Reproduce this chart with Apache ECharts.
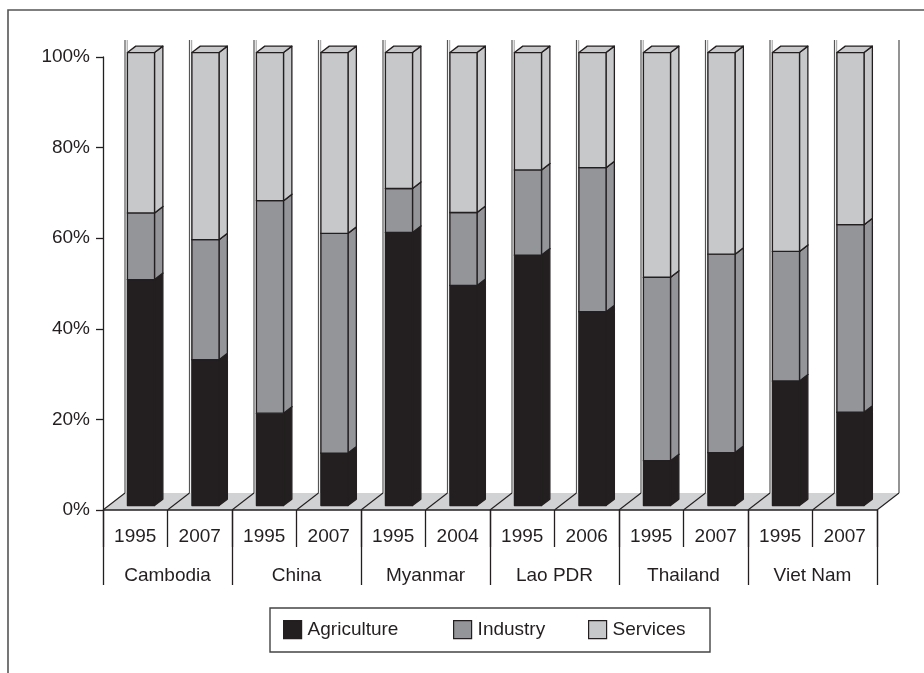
<!DOCTYPE html>
<html>
<head>
<meta charset="utf-8">
<script src="https://cdn.jsdelivr.net/npm/echarts@6/dist/echarts.min.js"></script>
<style>
  html, body { margin: 0; padding: 0; background: #fff; }
  #chart { width: 924px; height: 673px; }
</style>
</head>
<body>
<div id="chart"></div>
<script>
// Sector shares of GDP (%), by country and year
const countries = ['Cambodia', 'China', 'Myanmar', 'Lao PDR', 'Thailand', 'Viet Nam'];
const years = ['1995', '2007', '1995', '2007', '1995', '2004', '1995', '2006', '1995', '2007', '1995', '2007'];
const agriculture = [49.9, 32.2, 20.4, 11.6, 60.3, 48.6, 55.3, 42.8, 9.9, 11.7, 27.5, 20.6];
const industry    = [14.7, 26.5, 46.9, 48.5, 9.7, 16.1, 18.8, 31.8, 40.5, 43.8, 28.6, 41.4];
const services    = [35.4, 41.3, 32.7, 39.9, 30.0, 35.3, 25.9, 25.4, 49.6, 44.5, 43.9, 38.0];
const sectorNames = ['Agriculture', 'Industry', 'Services'];

const INK = '#231f20';
const COLORS = { Agriculture: '#231f20', Industry: '#939598', Services: '#c7c8ca' };
const FLOOR = '#d1d2d3';
const FONT = "'Liberation Sans', Arial, Helvetica, sans-serif";

// perspective: the floor recedes up and to the right
const DEPTH = [22, -17];
const BAR_FRONT = 0.26;   // bar front plane, as a fraction of floor depth
const BAR_BACK = 0.64;    // bar back plane
const BAR_WIDTH = 0.42;   // front face width, as a fraction of the category band

// draw one stacked block (front, side, top faces) between two values
function renderBlock(color) {
  return function (params, api) {
    const idx = api.value(0);
    const lo = api.value(1), hi = api.value(2);
    const band = api.size([1, 0])[0];
    const pLo = api.coord([idx, lo]);
    const pHi = api.coord([idx, hi]);
    const fx = DEPTH[0] * BAR_FRONT, fy = DEPTH[1] * BAR_FRONT;
    const dx = DEPTH[0] * (BAR_BACK - BAR_FRONT), dy = DEPTH[1] * (BAR_BACK - BAR_FRONT);
    const w = band * BAR_WIDTH;
    const x0 = pLo[0] - w / 2 + fx, x1 = x0 + w;
    const yb = pLo[1] + fy, yt = pHi[1] + fy;
    const style = { fill: color, stroke: INK, lineWidth: 1.3, lineJoin: 'round' };
    return {
      type: 'group',
      children: [
        { type: 'polygon', shape: { points: [[x1, yb], [x1 + dx, yb + dy], [x1 + dx, yt + dy], [x1, yt]] }, style: style },
        { type: 'polygon', shape: { points: [[x0, yt], [x1, yt], [x1 + dx, yt + dy], [x0 + dx, yt + dy]] }, style: style },
        { type: 'rect', shape: { x: x0, y: yt, width: w, height: yb - yt }, style: style }
      ]
    };
  };
}

// floor strip and back-wall divider for each category band
function renderFloor(params, api) {
  const idx = api.value(0);
  const band = api.size([1, 0])[0];
  const base = api.coord([idx, 0]);
  const top = api.coord([idx, 100]);
  const xl = base[0] - band / 2, xr = base[0] + band / 2, y = base[1];
  const yTop = top[1] + DEPTH[1];
  const children = [
    { type: 'polygon', shape: { points: [[xl, y], [xr, y], [xr + DEPTH[0], y + DEPTH[1]], [xl + DEPTH[0], y + DEPTH[1]]] },
      style: { fill: FLOOR, stroke: null } },
    { type: 'line', shape: { x1: xl, y1: y, x2: xr, y2: y }, style: { stroke: INK, lineWidth: 1.3 } },
    { type: 'line', shape: { x1: xl, y1: y, x2: xl + DEPTH[0], y2: y + DEPTH[1] }, style: { stroke: INK, lineWidth: 1.1 } },
    { type: 'line', shape: { x1: xl + DEPTH[0], y1: y + DEPTH[1], x2: xl + DEPTH[0], y2: yTop }, style: { stroke: '#555', lineWidth: 1.2 } },
    { type: 'line', shape: { x1: xl + DEPTH[0] + 2.2, y1: y + DEPTH[1], x2: xl + DEPTH[0] + 2.2, y2: yTop }, style: { stroke: '#9a9a9a', lineWidth: 1 } }
  ];
  if (idx === params.dataInsideLength - 1) {
    children.push(
      { type: 'line', shape: { x1: xr, y1: y, x2: xr + DEPTH[0], y2: y + DEPTH[1] }, style: { stroke: INK, lineWidth: 1.1 } },
      { type: 'line', shape: { x1: xr + DEPTH[0], y1: y + DEPTH[1], x2: xr + DEPTH[0], y2: yTop }, style: { stroke: '#666', lineWidth: 1.4 } }
    );
  }
  return { type: 'group', children: children };
}

// cumulative stack bounds
const stacks = [agriculture, industry, services];
function stackData(level) {
  return years.map((_, i) => {
    let lo = 0;
    for (let k = 0; k < level; k++) lo += stacks[k][i];
    return [i, lo, lo + stacks[level][i]];
  });
}

const chart = echarts.init(document.getElementById('chart'), null, { renderer: 'canvas' });

const legendItem = (name, left) => ({
  left: left, top: 620, padding: 0, itemWidth: 18, itemHeight: 18, itemGap: 0,
  selectedMode: false,
  textStyle: { fontFamily: FONT, fontSize: 19, color: INK, lineHeight: 18, padding: [0, 0, 0, 1] },
  data: [{ name: name, icon: 'rect', itemStyle: { color: COLORS[name], borderColor: INK, borderWidth: 1.2 } }]
});

chart.setOption({
  animation: false,
  backgroundColor: '#fff',
  grid: { left: 103, right: 47, top: 57, bottom: 163, containLabel: false },
  legend: [legendItem('Agriculture', 283), legendItem('Industry', 453), legendItem('Services', 588)],
  xAxis: [
    {
      type: 'category', data: years, position: 'bottom', boundaryGap: true,
      axisLine: { show: false },
      axisTick: { show: true, interval: 0, length: 37, lineStyle: { color: INK, width: 1.3 } },
      axisLabel: { interval: 0, margin: 17, fontFamily: FONT, fontSize: 19, color: INK }
    },
    {
      type: 'category', data: countries, position: 'bottom', boundaryGap: true, offset: 0,
      axisLine: { show: false },
      axisTick: { show: true, interval: 0, length: 75, lineStyle: { color: INK, width: 1.3 } },
      axisLabel: { interval: 0, margin: 56, fontFamily: FONT, fontSize: 19, color: INK }
    }
  ],
  yAxis: {
    type: 'value', min: 0, max: 100, interval: 20,
    axisLine: { show: true, lineStyle: { color: INK, width: 1.3 } },
    axisTick: { show: true, length: 7, lineStyle: { color: INK, width: 1.3 } },
    splitLine: { show: false },
    axisLabel: { formatter: '{value}%', margin: 13, padding: [7, 0, 0, 0], fontFamily: FONT, fontSize: 19, color: INK }
  },
  graphic: [
    { type: 'polyline', shape: { points: [[8, 673], [8, 10], [924, 10]] }, style: { stroke: '#555', lineWidth: 1.6, fill: null }, z: 0 },
    { type: 'rect', shape: { x: 270, y: 608, width: 440, height: 44 }, style: { fill: null, stroke: '#444', lineWidth: 1.4 }, z: 0 }
  ],
  series: [
    { type: 'custom', name: 'floor', z: 1, renderItem: renderFloor, data: years.map((_, i) => [i, 0]), encode: { x: 0, y: 1 }, silent: true },
    ...sectorNames.map((name, k) => ({
      type: 'custom', name: name, z: 2 + k,
      renderItem: renderBlock(COLORS[name]),
      itemStyle: { color: COLORS[name] },
      data: stackData(k),
      encode: { x: 0, y: [1, 2] }
    }))
  ]
});
</script>
</body>
</html>
